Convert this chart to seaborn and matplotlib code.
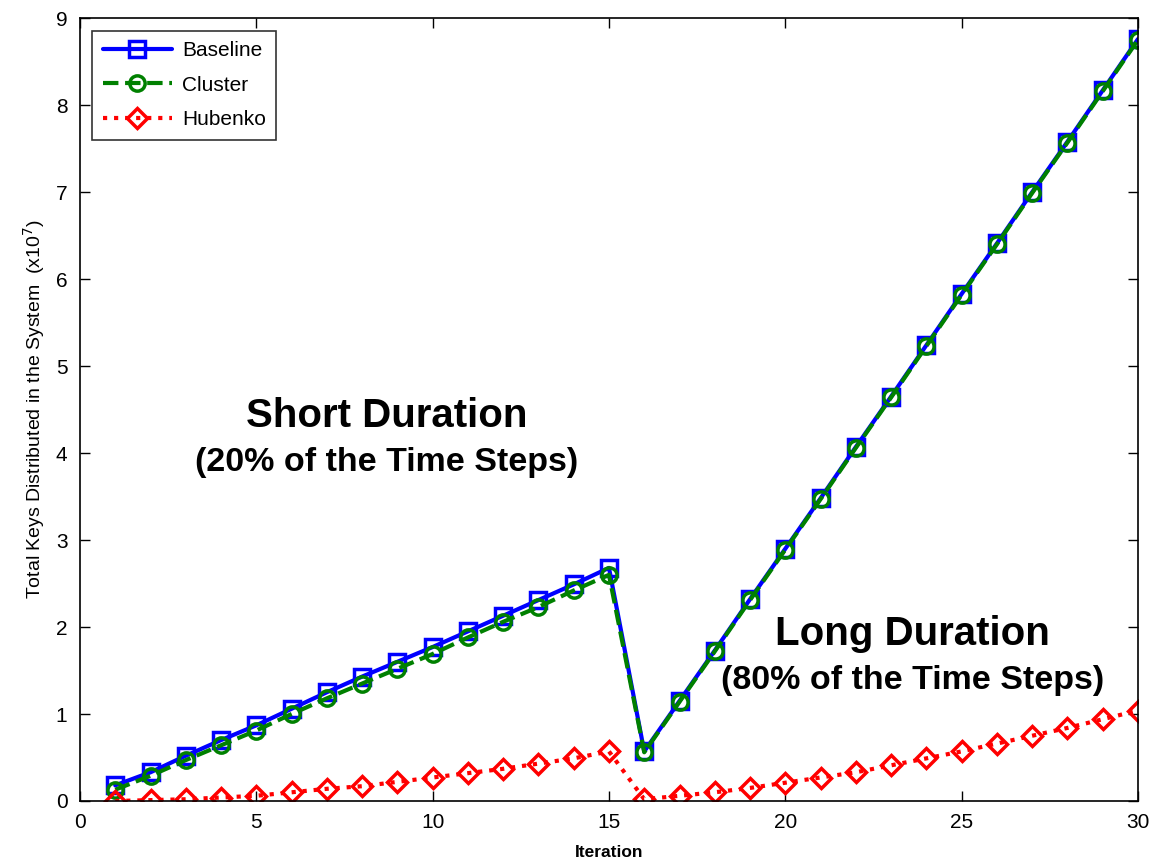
import matplotlib
matplotlib.use("Agg")
import matplotlib.pyplot as plt
import numpy as np
import pandas as pd
import seaborn as sns

iterations = list(range(1, 31))
baseline = [0.18, 0.33, 0.52, 0.70, 0.87, 1.06, 1.25, 1.43, 1.60, 1.77,
            1.95, 2.13, 2.31, 2.49, 2.68, 0.57, 1.15, 1.73, 2.32, 2.90,
            3.48, 4.07, 4.65, 5.24, 5.83, 6.41, 7.00, 7.58, 8.17, 8.76]
cluster = [0.13, 0.29, 0.47, 0.64, 0.81, 1.00, 1.18, 1.35, 1.52, 1.69,
           1.88, 2.06, 2.23, 2.42, 2.60, 0.56, 1.14, 1.72, 2.31, 2.89,
           3.47, 4.06, 4.64, 5.23, 5.82, 6.40, 6.99, 7.57, 8.16, 8.75]
hubenko = [0.00, 0.01, 0.02, 0.04, 0.06, 0.10, 0.14, 0.17, 0.22, 0.27,
           0.32, 0.37, 0.43, 0.49, 0.57, 0.02, 0.06, 0.10, 0.15, 0.21,
           0.27, 0.33, 0.41, 0.49, 0.57, 0.66, 0.75, 0.84, 0.94, 1.04]

sns.set_style("ticks")
plt.rcParams["font.family"] = ["Liberation Sans", "DejaVu Sans"]
plt.rcParams.update({
    "xtick.direction": "in", "ytick.direction": "in",
    "text.color": "black", "axes.labelcolor": "black",
    "xtick.color": "black", "ytick.color": "black",
    "axes.edgecolor": "black",
})

fig = plt.figure(figsize=(11.49, 8.65), dpi=100)
ax = fig.add_axes([0.0696, 0.074, 0.9208, 0.905])

series = [
    ("Baseline", baseline, "blue", "-", "s"),
    ("Cluster", cluster, "green", "--", "o"),
    ("Hubenko", hubenko, "red", ":", "D"),
]
for name, vals, color, ls, mk in series:
    df = pd.DataFrame({"Iteration": iterations, "value": vals})
    sns.lineplot(data=df, x="Iteration", y="value", ax=ax, color=color,
                 linestyle=ls, marker=mk, markersize=11 if mk != "D" else 10,
                 markerfacecolor="none", markeredgecolor=color,
                 markeredgewidth=2.5, linewidth=3, label=name)

ax.set_xlim(0, 30)
ax.set_ylim(0, 9)
ax.set_xticks(range(0, 31, 5))
ax.set_yticks(range(0, 10))
ax.tick_params(top=True, right=True, labelsize=15, length=7, width=1, pad=9)
for s in ax.spines.values():
    s.set_visible(True)
    s.set_linewidth(1.2)

ax.set_xlabel("Iteration", fontsize=12.5, fontweight="bold", labelpad=9)
ax.set_ylabel("Total Keys Distributed in the System  (x10$^7$)", fontsize=14,
              family=["Liberation Sans Narrow", "Liberation Sans"], labelpad=6)

ax.text(8.7, 4.43, "Short Duration", fontsize=29, fontweight="bold",
        ha="center", va="center")
ax.text(8.7, 3.89, "(20% of the Time Steps)", fontsize=24.5, fontweight="bold",
        ha="center", va="center")
ax.text(23.6, 1.92, "Long Duration", fontsize=29, fontweight="bold",
        ha="center", va="center")
ax.text(23.6, 1.39, "(80% of the Time Steps)", fontsize=24.5, fontweight="bold",
        ha="center", va="center")

leg = ax.legend(loc="upper left", fontsize=15, frameon=True, fancybox=False,
                edgecolor="black", handlelength=3.3, handletextpad=0.5,
                borderaxespad=0.6, labelspacing=0.75, borderpad=0.5)
leg.get_frame().set_linewidth(1.2)

fig.savefig("out.png", dpi=100)
